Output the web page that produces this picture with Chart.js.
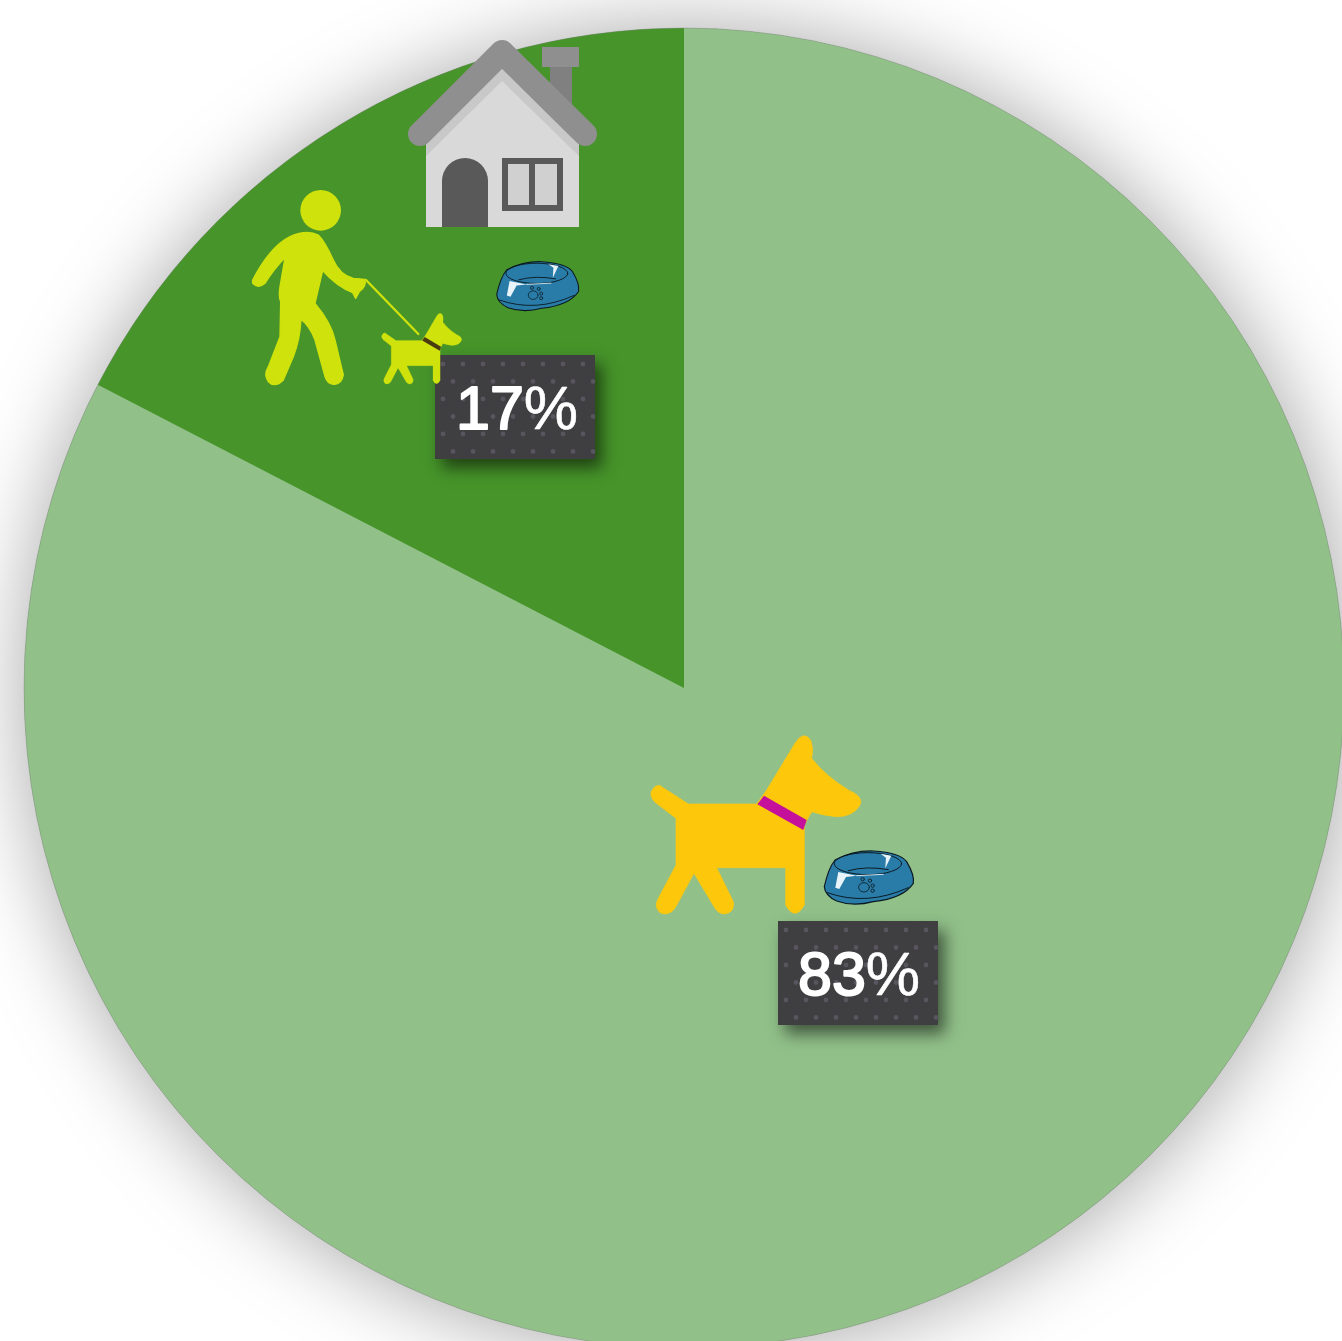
<!DOCTYPE html>
<html>
<head>
<meta charset="utf-8">
<title>Pie</title>
<script src="https://cdn.jsdelivr.net/npm/chart.js@4"></script>
<style>
  html, body { margin: 0; padding: 0; background: #fff; overflow: hidden; width: 1342px; height: 1341px; }
  #pie { position: absolute; left: -16px; top: -12px; }
</style>
</head>
<body>
<canvas id="pie" width="1400" height="1400"></canvas>
<script>
var categories = ['Dog at home', 'Walked dog'];
var shares = [82.6, 17.4];
var sliceColors = ['#91c089', '#46942a'];

// the circle with its shadow goes under the slices
var shadowPlugin = {
    id: 'shadow',
    beforeDatasetsDraw: function (chart) {
        var arc = chart.getDatasetMeta(0).data[0];
        var ctx = chart.ctx;
        ctx.save();
        ctx.shadowColor = 'rgba(0,0,0,0.36)';
        ctx.shadowBlur = 85;
        ctx.shadowOffsetX = 2;
        ctx.shadowOffsetY = 2;
        ctx.fillStyle = '#91c089';
        ctx.beginPath();
        ctx.arc(arc.x, arc.y, arc.outerRadius, 0, Math.PI * 2);
        ctx.fill();
        ctx.restore();
    },
    afterDatasetsDraw: function (chart) {
        var arc = chart.getDatasetMeta(0).data[0];
        var ctx = chart.ctx;
        ctx.save();
        ctx.strokeStyle = 'rgba(120,120,120,0.35)';
        ctx.lineWidth = 1;
        ctx.beginPath();
        ctx.arc(arc.x, arc.y, arc.outerRadius, 0, Math.PI * 2);
        ctx.stroke();
        ctx.restore();
    }
};

function dogPath(ctx) {
    ctx.beginPath();
    ctx.moveTo(60, 182);
    ctx.lineTo(145, 237);
    ctx.lineTo(350, 237);
    ctx.lineTo(380, 195);
    ctx.lineTo(465, 55);
    ctx.quadraticCurveTo(490, 15, 512, 45);
    ctx.quadraticCurveTo(522, 70, 515, 100);
    ctx.quadraticCurveTo(555, 152, 625, 195);
    ctx.quadraticCurveTo(672, 215, 660, 240);
    ctx.quadraticCurveTo(640, 275, 590, 275);
    ctx.quadraticCurveTo(550, 272, 515, 260);
    ctx.lineTo(493, 300);
    ctx.lineTo(493, 540);
    ctx.quadraticCurveTo(465, 590, 437, 540);
    ctx.lineTo(437, 428);
    ctx.lineTo(230, 428);
    ctx.lineTo(280, 530);
    ctx.quadraticCurveTo(285, 565, 250, 567);
    ctx.quadraticCurveTo(235, 565, 225, 550);
    ctx.lineTo(162, 445);
    ctx.lineTo(105, 550);
    ctx.quadraticCurveTo(85, 575, 60, 563);
    ctx.quadraticCurveTo(40, 545, 55, 520);
    ctx.lineTo(108, 420);
    ctx.lineTo(108, 280);
    ctx.lineTo(45, 232);
    ctx.quadraticCurveTo(20, 205, 45, 185);
    ctx.quadraticCurveTo(52, 180, 60, 182);
    ctx.closePath();
}

// x, y is the top left of the dog, sx and sy scale it down from the big one
function drawDog(ctx, x, y, sx, sy, color, collar) {
    ctx.save();
    ctx.translate(x, y);
    ctx.scale(sx / 3, sy / 3);
    ctx.translate(-33, -30);
    ctx.fillStyle = color;
    ctx.strokeStyle = color;
    ctx.lineWidth = 2;
    ctx.lineJoin = 'round';
    dogPath(ctx);
    ctx.fill();
    ctx.stroke();
    ctx.fillStyle = collar;
    ctx.beginPath();
    ctx.moveTo(372, 212);
    ctx.lineTo(500, 285);
    ctx.lineTo(490, 315);
    ctx.lineTo(352, 238);
    ctx.closePath();
    ctx.fill();
    ctx.restore();
}

function drawBowl(ctx, x, y, s) {
    var i;
    ctx.save();
    ctx.translate(x, y);
    ctx.scale(s / 3, s / 3);
    ctx.translate(-553, -378);
    ctx.fillStyle = '#2a7ca8';
    ctx.strokeStyle = '#0b1a22';
    ctx.lineWidth = 3.5;
    ctx.beginPath();
    ctx.moveTo(553, 485);
    ctx.quadraticCurveTo(565, 430, 585, 405);
    ctx.quadraticCurveTo(640, 376, 700, 378);
    ctx.quadraticCurveTo(780, 383, 800, 410);
    ctx.quadraticCurveTo(824, 450, 820, 475);
    ctx.quadraticCurveTo(790, 520, 700, 530);
    ctx.quadraticCurveTo(640, 546, 590, 528);
    ctx.quadraticCurveTo(555, 512, 553, 485);
    ctx.closePath();
    ctx.fill();
    ctx.stroke();
    // rim and floor of the bowl
    ctx.lineWidth = 3;
    ctx.beginPath();
    ctx.ellipse(684, 416, 101, 33, 0, 0, Math.PI * 2);
    ctx.stroke();
    ctx.beginPath();
    ctx.moveTo(625, 437);
    ctx.quadraticCurveTo(680, 422, 745, 434);
    ctx.stroke();
    ctx.beginPath();
    ctx.moveTo(562, 503);
    ctx.quadraticCurveTo(680, 545, 805, 488);
    ctx.stroke();
    // highlights
    ctx.fillStyle = '#e8f4fa';
    ctx.beginPath();
    ctx.moveTo(595, 441);
    ctx.lineTo(650, 452);
    ctx.lineTo(618, 456);
    ctx.lineTo(598, 492);
    ctx.lineTo(586, 488);
    ctx.closePath();
    ctx.fill();
    ctx.beginPath();
    ctx.moveTo(722, 386);
    ctx.lineTo(754, 392);
    ctx.lineTo(736, 430);
    ctx.lineTo(738, 398);
    ctx.closePath();
    ctx.fill();
    ctx.strokeStyle = '#cfe6f2';
    ctx.beginPath();
    ctx.moveTo(650, 452);
    ctx.lineTo(730, 448);
    ctx.stroke();
    // paw
    ctx.strokeStyle = '#0b1a22';
    ctx.lineWidth = 2.5;
    ctx.beginPath();
    ctx.ellipse(672, 487, 16, 14, 0, 0, Math.PI * 2);
    ctx.stroke();
    var toes = [[668, 463], [690, 467], [698, 482], [698, 497]];
    for (i = 0; i < toes.length; i++) {
        ctx.beginPath();
        ctx.arc(toes[i][0], toes[i][1], 5, 0, Math.PI * 2);
        ctx.stroke();
    }
    ctx.restore();
}

function drawHouse(ctx) {
    // chimney
    ctx.fillStyle = '#808080';
    ctx.fillRect(550, 66, 22, 40);
    ctx.fillStyle = '#8f8f8f';
    ctx.fillRect(542, 47, 37, 20);
    // walls
    ctx.fillStyle = '#d9d9d9';
    ctx.beginPath();
    ctx.moveTo(426, 227);
    ctx.lineTo(426, 135);
    ctx.lineTo(502, 60);
    ctx.lineTo(579, 135);
    ctx.lineTo(579, 227);
    ctx.closePath();
    ctx.fill();
    ctx.fillStyle = '#c8c8c8';
    ctx.beginPath();
    ctx.moveTo(426, 135);
    ctx.lineTo(502, 60);
    ctx.lineTo(579, 135);
    ctx.lineTo(579, 156);
    ctx.lineTo(502, 81);
    ctx.lineTo(426, 156);
    ctx.closePath();
    ctx.fill();
    // roof
    ctx.strokeStyle = '#8f8f8f';
    ctx.lineWidth = 24;
    ctx.lineCap = 'round';
    ctx.lineJoin = 'round';
    ctx.beginPath();
    ctx.moveTo(420, 134);
    ctx.lineTo(502, 52);
    ctx.lineTo(585, 134);
    ctx.stroke();
    // door
    ctx.fillStyle = '#595959';
    ctx.beginPath();
    ctx.moveTo(442, 227);
    ctx.lineTo(442, 181);
    ctx.arc(465, 181, 23, Math.PI, 0);
    ctx.lineTo(488, 227);
    ctx.closePath();
    ctx.fill();
    // window
    ctx.fillRect(502, 158, 61, 53);
    ctx.fillStyle = '#d0d0d0';
    ctx.fillRect(508, 164, 21, 41);
    ctx.fillRect(535, 164, 22, 41);
}

function drawWalker(ctx) {
    ctx.save();
    ctx.translate(240, 30);
    ctx.scale(1 / 3, 1 / 3);
    ctx.fillStyle = '#cfe20c';
    ctx.strokeStyle = '#cfe20c';
    ctx.lineJoin = 'round';
    ctx.beginPath();
    ctx.arc(242, 541, 61, 0, Math.PI * 2);
    ctx.fill();
    ctx.beginPath();
    ctx.moveTo(38, 750);
    ctx.quadraticCurveTo(90, 650, 150, 620);
    ctx.quadraticCurveTo(200, 598, 235, 615);
    ctx.quadraticCurveTo(255, 635, 280, 690);
    ctx.quadraticCurveTo(300, 735, 340, 745);
    ctx.lineTo(375, 748);
    ctx.quadraticCurveTo(380, 770, 358, 785);
    ctx.lineTo(347, 805);
    ctx.lineTo(338, 788);
    ctx.quadraticCurveTo(290, 770, 248, 722);
    ctx.lineTo(225, 820);
    ctx.quadraticCurveTo(275, 880, 285, 930);
    ctx.lineTo(310, 1035);
    ctx.quadraticCurveTo(305, 1065, 280, 1063);
    ctx.quadraticCurveTo(262, 1062, 255, 1040);
    ctx.lineTo(225, 930);
    ctx.quadraticCurveTo(210, 890, 183, 868);
    ctx.quadraticCurveTo(180, 930, 160, 980);
    ctx.lineTo(130, 1050);
    ctx.quadraticCurveTo(105, 1075, 85, 1055);
    ctx.quadraticCurveTo(70, 1035, 85, 1010);
    ctx.lineTo(120, 920);
    ctx.lineTo(122, 815);
    ctx.quadraticCurveTo(115, 800, 120, 770);
    ctx.lineTo(135, 683);
    ctx.quadraticCurveTo(100, 720, 75, 760);
    ctx.quadraticCurveTo(55, 778, 38, 760);
    ctx.closePath();
    ctx.fill();
    ctx.lineWidth = 4;
    ctx.stroke();
    // leash
    ctx.lineWidth = 7;
    ctx.beginPath();
    ctx.moveTo(378, 750);
    ctx.lineTo(535, 912);
    ctx.stroke();
    ctx.restore();
}

function drawLabel(ctx, text, x, y, textX, baseline) {
    var w = 160, h = 104, row, col;
    var digits = text.slice(0, -1);
    ctx.save();
    ctx.shadowColor = 'rgba(0,0,0,0.55)';
    ctx.shadowBlur = 15;
    ctx.shadowOffsetX = 7;
    ctx.shadowOffsetY = 9;
    ctx.fillStyle = '#3f3e41';
    ctx.fillRect(x, y, w, h);
    ctx.restore();
    // dotted texture of the box
    ctx.fillStyle = '#59555e';
    for (row = 0; row < 6; row++) {
        for (col = 0; col < 8; col++) {
            ctx.beginPath();
            ctx.arc(x + 8 + col * 20 + (row % 2) * 10, y + 9 + row * 17.5, 2.4, 0, Math.PI * 2);
            ctx.fill();
        }
    }
    // digits read heavier than the percent sign
    ctx.save();
    ctx.filter = 'blur(0.6px)';
    ctx.fillStyle = '#ffffff';
    ctx.strokeStyle = '#ffffff';
    ctx.font = '61px "Liberation Sans", Arial, sans-serif';
    ctx.textAlign = 'left';
    ctx.textBaseline = 'alphabetic';
    ctx.lineWidth = 2;
    ctx.fillText(digits, textX, baseline);
    ctx.strokeText(digits, textX, baseline);
    ctx.lineWidth = 0.6;
    ctx.fillText('%', textX + ctx.measureText(digits).width, baseline);
    ctx.strokeText('%', textX + ctx.measureText(digits).width, baseline);
    ctx.restore();
}

// icons and the two percent boxes, in page coordinates
var iconPlugin = {
    id: 'icons',
    afterDraw: function (chart) {
        var ctx = chart.ctx;
        ctx.save();
        ctx.translate(16, 12);
        drawHouse(ctx);
        drawWalker(ctx);
        drawBowl(ctx, 496.7, 261.7, 0.92);
        drawLabel(ctx, Math.round(shares[1]) + '%', 435, 355, 456, 429);
        drawDog(ctx, 381.7, 313, 0.381, 0.397, '#cfe20c', '#4a3a10');
        drawDog(ctx, 651, 735, 1, 1, '#fdc70c', '#c4109b');
        drawBowl(ctx, 824.3, 851, 1);
        drawLabel(ctx, Math.round(shares[0]) + '%', 778, 921, 798, 995);
        ctx.restore();
    }
};

var ctx = document.getElementById('pie').getContext('2d');
var myChart = new Chart(ctx, {
    type: 'pie',
    data: {
        labels: categories,
        datasets: [{
            data: shares,
            backgroundColor: sliceColors,
            borderWidth: 0
        }]
    },
    options: {
        responsive: false,
        animation: false,
        layout: { padding: 40 },
        plugins: {
            legend: { display: false },
            title: { display: false },
            tooltip: { enabled: false }
        }
    },
    plugins: [shadowPlugin, iconPlugin]
});
</script>
</body>
</html>
